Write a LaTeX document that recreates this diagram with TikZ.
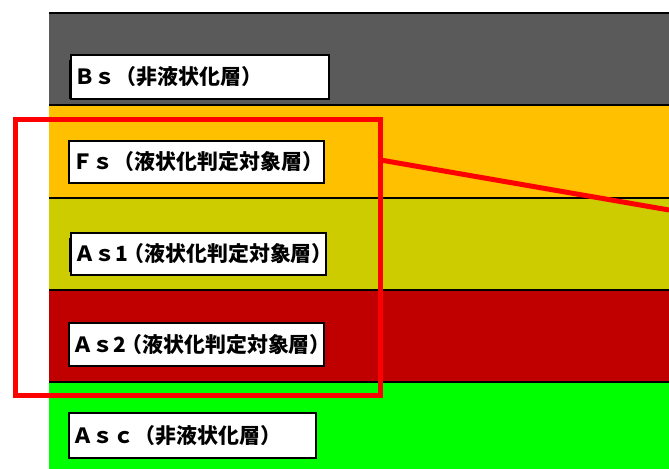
\documentclass[tikz,border=0pt]{standalone}
\usepackage{fontspec}
\newfontfamily\jp{Noto Sans CJK JP}
\definecolor{bsgray}{HTML}{5A5A5A}
\definecolor{fsorange}{HTML}{FFC000}
\definecolor{asyellow}{HTML}{CCCC00}
\definecolor{asred}{HTML}{C00000}
\definecolor{ascgreen}{HTML}{00FF00}
\definecolor{frame}{HTML}{FF0000}
\begin{document}
\begin{tikzpicture}[x=1bp,y=-1bp,
  sep/.style={draw=black,line width=1.2bp},
  lbl/.style={draw=black,line width=1.3bp,fill=white,anchor=north west,
    outer sep=0pt,inner xsep=3bp,inner ysep=0pt,align=left,
    font=\fontsize{21}{24}\selectfont\bfseries\jp},
  focusbox/.style={draw=frame,line width=5bp,fill=none,anchor=north west,inner sep=0pt,outer sep=0pt},
  focusline/.style={draw=frame,line width=5bp}]
\useasboundingbox (0,0) rectangle (669,469);
\begin{scope}
\clip (0,0) rectangle (669,469);
% layers
\fill[bsgray] (49,13) rectangle (669,105);
\fill[fsorange] (49,105) rectangle (669,198);
\fill[asyellow] (49,198) rectangle (669,290);
\fill[asred] (49,290) rectangle (669,382);
\fill[ascgreen] (49,382) rectangle (669,469);
\draw[sep] (49,13) -- (669,13);
\draw[sep] (49,105) -- (669,105);
\draw[sep] (49,198) -- (669,198);
\draw[sep] (49,290) -- (669,290);
\draw[sep] (49,382) -- (669,382);
% labels
\node[lbl,text width=252bp,minimum height=44bp] (bs) at (71,55) {\raisebox{-6bp}{Ｂｓ（非液状化層）}};
\node[lbl,text width=249bp,minimum height=42bp] (fs) at (69,141) {\raisebox{-6bp}{Ｆｓ（液状化判定対象層）}};
\node[lbl,text width=249bp,minimum height=42bp] (as1) at (71,233) {\raisebox{-6bp}{Ａｓ1\kern-5bp（液状化判定対象層）}};
\node[lbl,text width=249bp,minimum height=43bp] (as2) at (69,323) {\raisebox{-6bp}{Ａｓ2\kern-5bp（液状化判定対象層）}};
\node[lbl,text width=241bp,minimum height=45bp] (asc) at (69,413) {\raisebox{-6bp}{Ａｓｃ（非液状化層）}};
\draw[line width=2bp] ([xshift=-1bp,yshift=-5bp]bs.north west) -- ([xshift=-1bp]bs.south west);
\draw[line width=2bp] ([xshift=-1bp,yshift=-5bp]as1.north west) -- ([xshift=-1bp,yshift=3bp]as1.south west);
% focus frame and leader
\node[focusbox,minimum width=365bp,minimum height=276bp] (focus) at (15.5,119.5) {};
\coordinate (d0) at (380.5,160);
\coordinate (d1) at (669,210);
\draw[focusline] (d0) -- (d1);
\end{scope}
\end{tikzpicture}
\end{document}
